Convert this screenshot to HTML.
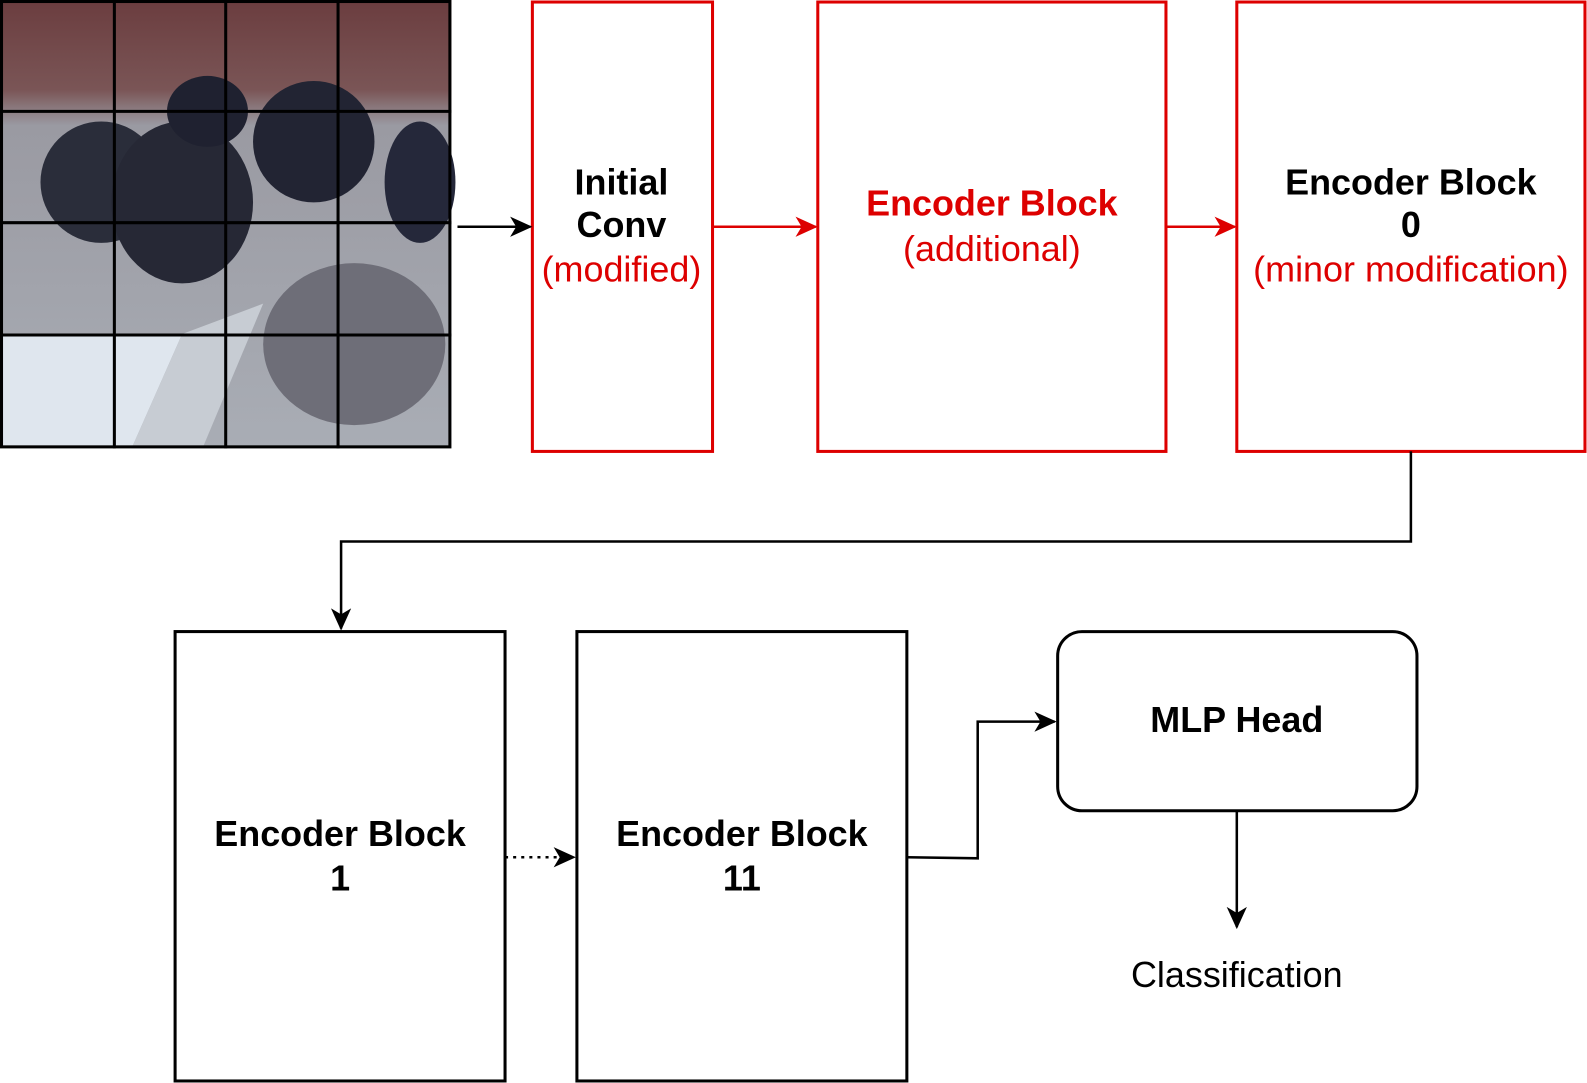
<!DOCTYPE html>
<html><head><meta charset="utf-8"><style>
html,body{margin:0;padding:0;background:#fff;}
svg{display:block;}
text{font-family:"Liberation Sans",Arial,sans-serif;font-size:35.5px;text-anchor:middle;}
.b{font-weight:bold;}
</style></head><body>
<svg width="1587" height="1083" viewBox="0 0 1568 1070" preserveAspectRatio="none" xmlns="http://www.w3.org/2000/svg">
<defs>
<linearGradient id="bg" x1="0" y1="0" x2="0" y2="1">
<stop offset="0" stop-color="#6b3d3f"/><stop offset="0.2" stop-color="#7a5556"/><stop offset="0.28" stop-color="#9a9aa2"/><stop offset="1" stop-color="#a9adb5"/>
</linearGradient>
<marker id="ak" markerWidth="24" markerHeight="24" refX="20" refY="12" orient="auto" markerUnits="userSpaceOnUse"><path d="M0,2 L22,12 L0,22 L6,12z" fill="#000"/></marker>
<marker id="ar" markerWidth="24" markerHeight="24" refX="20" refY="12" orient="auto" markerUnits="userSpaceOnUse"><path d="M0,2 L22,12 L0,22 L6,12z" fill="#d00"/></marker>
</defs>
<rect x="0" y="0" width="446" height="443" fill="url(#bg)"/>
<polygon points="0,330 180,330 130,443 0,443" fill="#dfe6ee"/>
<polygon points="180,330 260,300 200,443 130,443" fill="#c7ccd3"/>
<ellipse cx="100" cy="180" rx="60" ry="60" fill="#2a2d3a"/>
<ellipse cx="180" cy="200" rx="70" ry="80" fill="#262835"/>
<ellipse cx="205" cy="110" rx="40" ry="35" fill="#1f2130"/>
<ellipse cx="310" cy="140" rx="60" ry="60" fill="#222433"/>
<ellipse cx="415" cy="180" rx="35" ry="60" fill="#25283a"/>
<ellipse cx="350" cy="340" rx="90" ry="80" fill="#6e6e78"/>
<g stroke="#000" stroke-width="3" fill="none">
<rect x="1.5" y="1.5" width="443" height="440"/>
<line x1="113" y1="0" x2="113" y2="443"/><line x1="223" y1="0" x2="223" y2="443"/><line x1="334" y1="0" x2="334" y2="443"/>
<line x1="0" y1="110" x2="446" y2="110"/><line x1="0" y1="220" x2="446" y2="220"/><line x1="0" y1="331" x2="446" y2="331"/>
</g>
<g fill="#fff" stroke="#d00" stroke-width="3">
<rect x="526" y="2" width="178" height="444"/>
<rect x="808" y="2" width="344" height="444"/>
<rect x="1222" y="2" width="344" height="444"/>
</g>
<line x1="452" y1="224" x2="524" y2="224" stroke="#000" stroke-width="2.5" marker-end="url(#ak)"/>
<line x1="704" y1="224" x2="806" y2="224" stroke="#d00" stroke-width="2.5" marker-end="url(#ar)"/>
<line x1="1152" y1="224" x2="1220" y2="224" stroke="#d00" stroke-width="2.5" marker-end="url(#ar)"/>
<text x="614" y="192" class="b">Initial</text>
<text x="614" y="234" class="b">Conv</text>
<text x="614" y="278" fill="#d00">(modified)</text>
<text x="980" y="213" class="b" fill="#d00">Encoder Block</text>
<text x="980" y="258" fill="#d00">(additional)</text>
<text x="1394" y="192" class="b">Encoder Block</text>
<text x="1394" y="234" class="b">0</text>
<text x="1394" y="278" fill="#d00">(minor modification)</text>
<polyline points="1394,446 1394,535 337,535 337,621" fill="none" stroke="#000" stroke-width="2.5" marker-end="url(#ak)"/>
<g fill="#fff" stroke="#000" stroke-width="3">
<rect x="173" y="624" width="326" height="444"/>
<rect x="570" y="624" width="326" height="444"/>
<rect x="1045" y="624" width="355" height="177" rx="24"/>
</g>
<line x1="499" y1="847" x2="567" y2="847" stroke="#000" stroke-width="2.5" stroke-dasharray="3,5" marker-end="url(#ak)"/>
<polyline points="896,847 966,848 966,713 1042,713" fill="none" stroke="#000" stroke-width="2.5" marker-end="url(#ak)"/>
<line x1="1222" y1="801" x2="1222" y2="916" stroke="#000" stroke-width="2.5" marker-end="url(#ak)"/>
<text x="336" y="836" class="b">Encoder Block</text>
<text x="336" y="880" class="b">1</text>
<text x="733" y="836" class="b">Encoder Block</text>
<text x="733" y="880" class="b">11</text>
<text x="1222" y="723" class="b">MLP Head</text>
<text x="1222" y="975">Classification</text>
</svg>
</body></html>
